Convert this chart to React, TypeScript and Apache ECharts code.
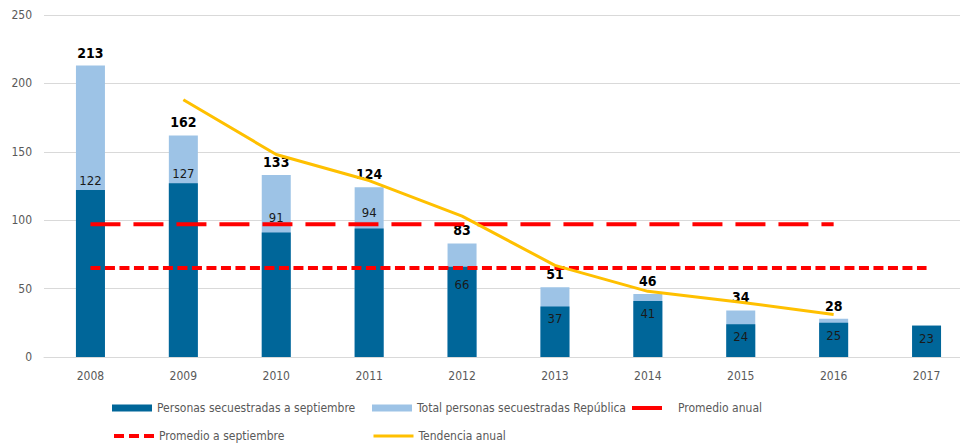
import React, { useEffect, useRef } from "react";
import * as echarts from "echarts";

const years = ["2008", "2009", "2010", "2011", "2012", "2013", "2014", "2015", "2016", "2017"];
const septValues = [122, 127, 91, 94, 66, 37, 41, 24, 25, 23];
const totalValues: (number | null)[] = [213, 162, 133, 124, 83, 51, 46, 34, 28, null];
const promedioAnual: (number | null)[] = [97.1, 97.1, 97.1, 97.1, 97.1, 97.1, 97.1, 97.1, 97.1, null];
const promedioSept: number[] = [65, 65, 65, 65, 65, 65, 65, 65, 65, 65];
const tendencia: (number | null)[] = [null, 188, 148, 129, 103, 67, 48, 40, 31, null];
const yTicks = { min: 0, max: 250, interval: 50 };

const FONT = "'DejaVu Sans Condensed', 'Liberation Sans Narrow', sans-serif";
const DARK = "#006699";
const LIGHT = "#9dc3e6";
const RED = "#ff0000";
const YELLOW = "#ffc000";
const GRAY = "#595959";

const septLabelPos = (i: number) => {
  if (i < 2) return { position: "top", distance: 3 };
  if (i < 4) return { position: "top", distance: 9 };
  if (i === 4) return { position: "insideTop", distance: 11 };
  return { position: "insideTop", distance: 6 };
};

export default function App() {
  const ref = useRef<HTMLDivElement>(null);
  useEffect(() => {
    if (!ref.current) return;
    const chart = echarts.init(ref.current, null, { renderer: "svg" });
    const legendText = { color: GRAY, fontSize: 12, fontFamily: FONT };
    const hideSymbol = { opacity: 0 };
    chart.setOption({
      animation: false,
      textStyle: { fontFamily: FONT },
      grid: { left: 44, right: 0, top: 15, bottom: 87, containLabel: false },
      xAxis: {
        type: "category",
        data: years,
        axisLine: { lineStyle: { color: "#d9d9d9", width: 1 } },
        axisTick: { show: false },
        axisLabel: { color: GRAY, fontSize: 12, margin: 13, fontFamily: FONT },
      },
      yAxis: {
        type: "value",
        min: yTicks.min,
        max: yTicks.max,
        interval: yTicks.interval,
        axisLine: { show: false },
        axisTick: { show: false },
        axisLabel: { color: GRAY, fontSize: 12, margin: 12, fontFamily: FONT },
        splitLine: { lineStyle: { color: "#d9d9d9", width: 1 } },
      },
      legend: [
        {
          left: 112, top: 402, padding: 0, itemWidth: 40, itemHeight: 7, icon: "rect",
          textStyle: legendText, data: ["Personas secuestradas a septiembre"],
        },
        {
          left: 372, top: 402, padding: 0, itemWidth: 40, itemHeight: 7, icon: "rect",
          textStyle: legendText, data: ["Total personas secuestradas República"],
        },
        {
          left: 630, top: 402, padding: 0, itemWidth: 30, itemHeight: 7,
          itemStyle: hideSymbol,
          lineStyle: { color: RED, width: 4, type: "solid" },
          textStyle: { ...legendText, padding: [0, 0, 0, 11] }, data: ["Promedio anual"],
        },
        {
          left: 112, top: 430, padding: 0, itemWidth: 40, itemHeight: 7,
          itemStyle: hideSymbol,
          lineStyle: { color: RED, width: 4, type: [10, 5], cap: "butt" },
          textStyle: legendText, data: ["Promedio a septiembre"],
        },
        {
          left: 372, top: 430, padding: 0, itemWidth: 40, itemHeight: 7,
          itemStyle: hideSymbol,
          lineStyle: { color: YELLOW, width: 3, type: "solid" },
          textStyle: legendText, data: ["Tendencia anual"],
        },
      ],
      series: [
        {
          name: "Total personas secuestradas República",
          type: "bar",
          data: totalValues,
          barWidth: 29,
          itemStyle: { color: LIGHT },
          label: {
            show: true, position: "top", distance: 6,
            color: "#000", fontWeight: "bold", fontSize: 14, fontFamily: FONT,
          },
          z: 2,
        },
        {
          name: "Personas secuestradas a septiembre",
          type: "bar",
          data: septValues.map((v, i) => ({ value: v, label: septLabelPos(i) })),
          barWidth: 29,
          barGap: "-100%",
          itemStyle: { color: DARK },
          label: { show: true, color: "#1a1a1a", fontSize: 13, fontFamily: FONT },
          z: 3,
        },
        {
          name: "Promedio anual",
          type: "line",
          data: promedioAnual,
          symbol: "none",
          lineStyle: { color: RED, width: 4, type: [30, 13], cap: "butt" },
          itemStyle: { color: RED },
          z: 4,
        },
        {
          name: "Promedio a septiembre",
          type: "line",
          data: promedioSept,
          symbol: "none",
          lineStyle: { color: RED, width: 4, type: [10, 4.5], cap: "butt" },
          itemStyle: { color: RED },
          z: 4,
        },
        {
          name: "Tendencia anual",
          type: "line",
          data: tendencia,
          symbol: "none",
          lineStyle: { color: YELLOW, width: 3 },
          itemStyle: { color: YELLOW },
          z: 5,
        },
      ],
    });
    return () => chart.dispose();
  }, []);
  return (
    <div
      ref={ref}
      style={{ position: "fixed", left: 0, top: 0, width: 973, height: 444, background: "#fff" }}
    />
  );
}
